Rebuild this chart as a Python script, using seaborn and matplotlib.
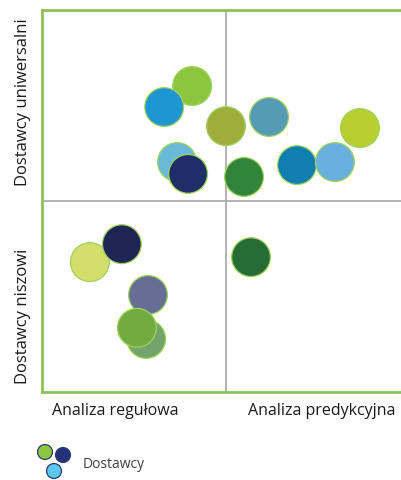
import matplotlib
matplotlib.use("Agg")
import matplotlib.pyplot as plt
import seaborn as sns
import pandas as pd

sns.set_theme(style="white")
plt.rcParams['font.family'] = ['Open Sans', 'DejaVu Sans']

# Data
vendors = [f"V{i}" for i in range(1, 17)]
x_vals = [4.08, 3.32, 5.00, 6.17, 8.64, 3.67, 3.97, 5.49, 6.93, 7.96,
          1.30, 2.17, 5.68, 2.88, 2.83, 2.58]
y_vals = [8.01, 7.46, 6.96, 7.20, 6.91, 6.02, 5.71, 5.63, 5.94, 6.02,
          3.40, 3.87, 3.53, 2.54, 1.39, 1.68]
colors = ["#8cc63f", "#1e96d2", "#9fad3b", "#559bb5", "#b8cf31", "#69bad8",
          "#1f2d68", "#32843d", "#107eb1", "#69b0e0", "#d4df6b", "#1f2555",
          "#266c37", "#666e96", "#72a46b", "#72ab40"]
x_tick_labels = ["Analiza regułowa", "Analiza predykcyjna"]
y_tick_labels = ["Dostawcy niszowi", "Dostawcy uniwersalni"]
legend_label = "Dostawcy"
legend_colors = ["#8cc63f", "#25307a", "#5bc8f0"]

df = pd.DataFrame({"vendor": vendors, "x": x_vals, "y": y_vals})
palette = dict(zip(vendors, colors))

W, H = 401, 481
fig = plt.figure(figsize=(W / 100, H / 100), dpi=100)
ax = fig.add_axes([42 / W, (H - 393) / H, (410 - 42) / W, (393 - 11) / H])

ax.axvline(5, color="#a6a6a6", lw=1.2, zorder=1)
ax.axhline(5, color="#a6a6a6", lw=1.2, zorder=1)

sns.scatterplot(data=df, x="x", y="y", hue="vendor", palette=palette,
                s=780, edgecolor="#9dd25c", linewidth=0.9, legend=False,
                ax=ax, zorder=3)

ax.set_xlim(0, 10)
ax.set_ylim(0, 10)
ax.set_xlabel("")
ax.set_ylabel("")
ax.set_xticks([1.98, 7.6])
ax.set_xticklabels(x_tick_labels, fontsize=11.5, color="#1a1a1a")
ax.set_yticks([2.0, 7.6])
ax.set_yticklabels(y_tick_labels, fontsize=12, color="#1a1a1a",
                   rotation=90, va="center")
ax.tick_params(axis="both", length=0)
ax.tick_params(axis="x", pad=7)
ax.tick_params(axis="y", pad=8)

for side in ["left", "top", "bottom"]:
    ax.spines[side].set_color("#8dc15a")
    ax.spines[side].set_linewidth(2)
ax.spines["right"].set_visible(False)

# Legend glyph
lax = fig.add_axes([30 / W, 0, 50 / W, 41 / H])
lax.set_xlim(30, 80)
lax.set_ylim(481, 440)
lax.axis("off")
leg_df = pd.DataFrame({"x": [45, 63, 54], "y": [453, 456, 472],
                       "c": legend_colors})
sns.scatterplot(data=leg_df, x="x", y="y", hue="c",
                palette=dict(zip(legend_colors, legend_colors)),
                s=115, edgecolor="#2a3a70", linewidth=0.9, legend=False,
                ax=lax, clip_on=False)
lax.set_xlabel("")
lax.set_ylabel("")
fig.text(83 / W, 1 - 465 / H, legend_label, fontsize=10, color="#404040",
         ha="left", va="center")

fig.savefig("out.png", dpi=100)
